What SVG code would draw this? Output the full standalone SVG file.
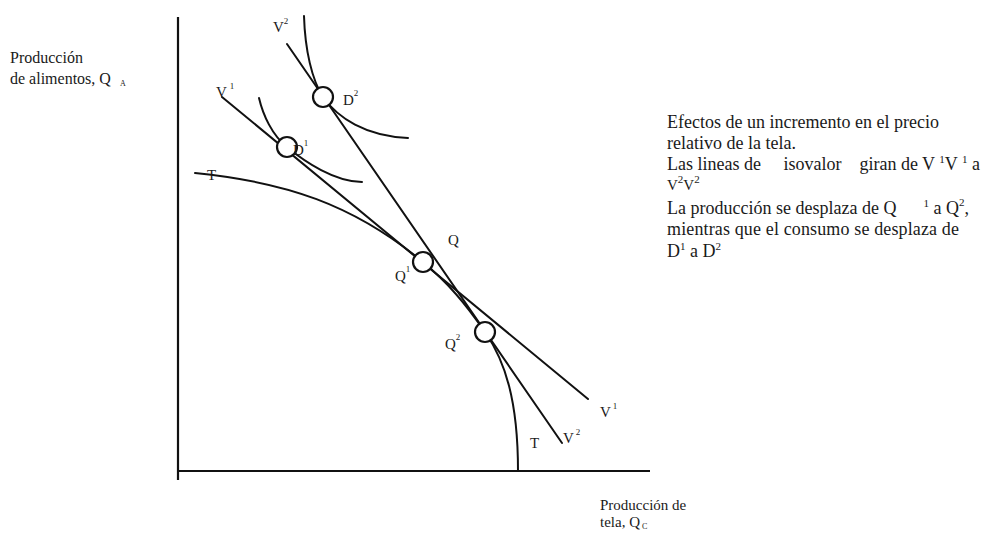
<svg xmlns="http://www.w3.org/2000/svg" width="984" height="533" viewBox="0 0 984 533">
<style>
.ln{fill:none;stroke:#111;stroke-width:2;stroke-linecap:round}
.ax{fill:none;stroke:#111;stroke-width:2.2}
.pt{fill:#fff;stroke:#111;stroke-width:2.2}
text{font-family:"Liberation Serif","Times New Roman",serif;fill:#1a1a1a}
.lb{font-size:15px}
.sp{font-size:9px}
.note{font-size:18px;white-space:pre}
.ns{font-size:11px}
</style>
<rect width="984" height="533" fill="#fff"/>
<g id="axes">
<line class="ax" x1="178" y1="17" x2="178" y2="480"/>
<line class="ax" x1="177" y1="471" x2="650" y2="471"/>
</g>
<g id="connectors">
<path id="V2-line" class="ln" d="M287,44 L562,443"/>
<path id="V1-line" class="ln" d="M222,97 L588,399"/>
<path id="T-curve" class="ln" d="M195,173 C285,182 353,204 423,262 C448,283 465,303 485,332 C505,361 518,400 518,471"/>
<path id="I1-curve" class="ln" d="M259,98 C263,115 272,135 287,147 C305,162 335,182 362,182"/>
<path id="I2-curve" class="ln" d="M304,16 C305,50 312,80 323,97 C338,118 365,136 408,138"/>
</g>
<g id="D2"><circle class="pt" cx="323" cy="97" r="10"/><text class="lb" x="343" y="105">D<tspan class="sp" dy="-9">2</tspan></text></g>
<g id="D1"><circle class="pt" cx="287" cy="147" r="10"/><text class="lb" x="293" y="155">D<tspan class="sp" dy="-9">1</tspan></text></g>
<g id="Q1"><circle class="pt" cx="423" cy="262" r="10"/><text class="lb" x="395" y="281">Q<tspan class="sp" dy="-9">1</tspan></text></g>
<g id="Q2"><circle class="pt" cx="485" cy="332" r="10"/><text class="lb" x="445" y="349">Q<tspan class="sp" dy="-9">2</tspan></text></g>
<g id="labels">
<text class="lb" x="273" y="32">V<tspan class="sp" dy="-8">2</tspan></text>
<text class="lb" x="216" y="97">V<tspan class="sp" dy="-8" dx="3">1</tspan></text>
<text class="lb" x="207" y="180" font-size="13">T</text>
<text class="lb" x="448" y="245">Q</text>
<text class="lb" x="600" y="417">V<tspan class="sp" dy="-8" dx="2">1</tspan></text>
<text class="lb" x="563" y="443">V<tspan class="sp" dy="-8" dx="2">2</tspan></text>
<text class="lb" x="530" y="448">T</text>
</g>
<g id="axis-labels">
<text font-size="16" x="10" y="63">Producción</text>
<text font-size="16" x="10" y="84">de alimentos, Q<tspan font-size="8" dx="9" dy="2">A</tspan></text>
<text font-size="15" x="600" y="510">Producción de</text>
<text font-size="15" x="600" y="527">tela, Q<tspan font-size="8" dx="2" dy="2">C</tspan></text>
</g>
<g id="note" class="note">
<text x="667" y="128" xml:space="preserve">Efectos de un incremento en el precio</text>
<text x="667" y="149" xml:space="preserve">relativo de la tela.</text>
<text x="667" y="170" xml:space="preserve">Las lineas de     isovalor    giran de V <tspan class="ns" dy="-7">1</tspan><tspan dy="7">V </tspan><tspan class="ns" dy="-7">1</tspan><tspan dy="7"> a</tspan></text>
<text x="667" y="190" font-size="15" xml:space="preserve">V<tspan class="ns" dy="-7">2</tspan><tspan dy="7">V</tspan><tspan class="ns" dy="-7">2</tspan></text>
<text x="667" y="214" xml:space="preserve">La producción se desplaza de Q      <tspan class="ns" dy="-7">1</tspan><tspan dy="7"> a Q</tspan><tspan class="ns" dy="-8">2</tspan><tspan dy="8">,</tspan></text>
<text x="667" y="235" textLength="292" lengthAdjust="spacing" xml:space="preserve">mientras que el consumo se desplaza de</text>
<text x="667" y="257" xml:space="preserve">D<tspan class="ns" dy="-7">1</tspan><tspan dy="7"> a D</tspan><tspan class="ns" dy="-7">2</tspan></text>
</g>
</svg>
